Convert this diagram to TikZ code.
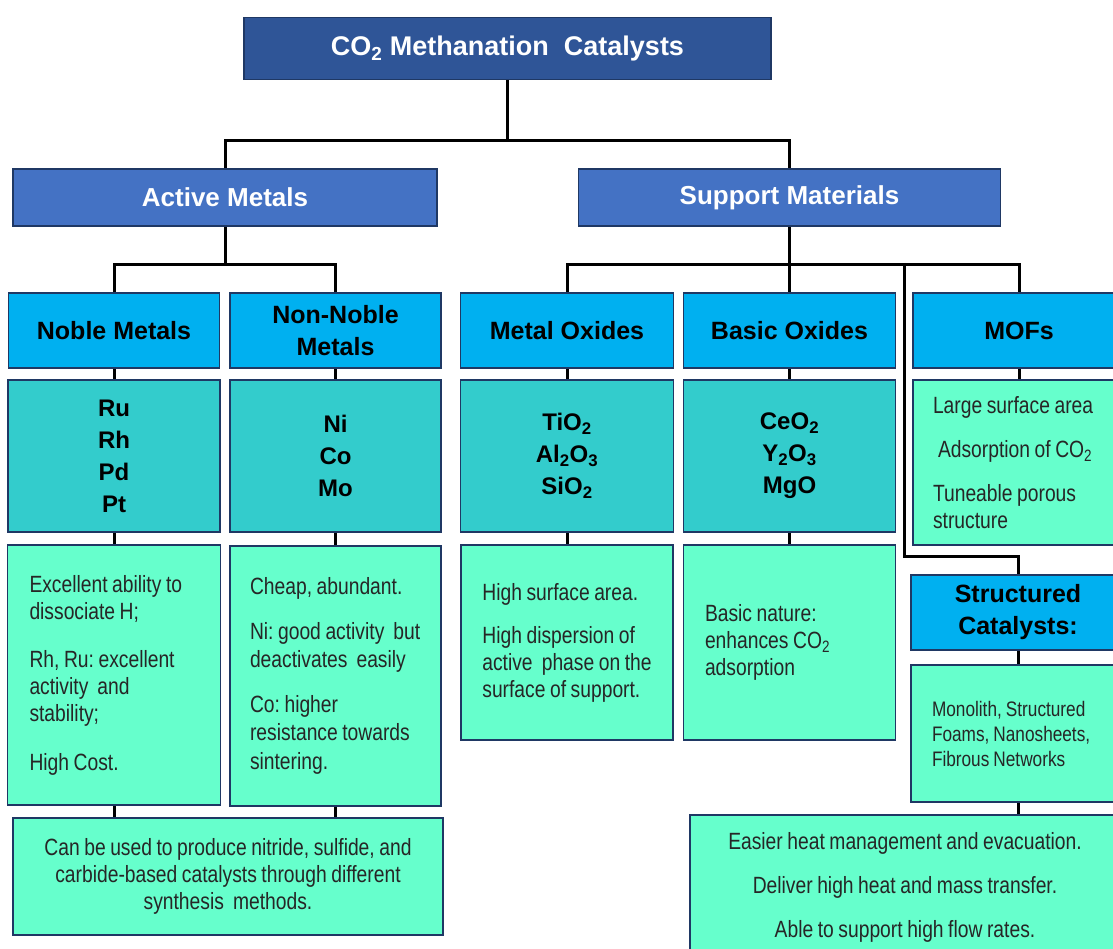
\documentclass[tikz,border=0pt]{standalone}
\usepackage{fontspec}
\setmainfont{Liberation Sans}
\newfontfamily\narrowfont[FakeStretch=0.82, WordSpace=0.85]{Liberation Sans}
\newcommand\notefont{\narrowfont\frenchspacing}
\definecolor{navy}{HTML}{1F3864}
\definecolor{topblue}{HTML}{2F5597}
\definecolor{midblue}{HTML}{4472C4}
\definecolor{skyblue}{HTML}{00B0F0}
\definecolor{tealbox}{HTML}{33CCCC}
\definecolor{mintbox}{HTML}{66FFCC}

\begin{document}
\begin{tikzpicture}[x=1pt,y=-1pt,
    box/.style={draw=navy, line width=1.8pt, inner sep=0pt, align=center},
    topbox/.style={box, fill=topblue, text=white, font=\fontsize{27}{32}\selectfont\bfseries},
    catbox/.style={box, fill=midblue, text=white, font=\fontsize{26}{32}\selectfont\bfseries},
    headbox/.style={box, fill=skyblue, minimum height=75pt, font=\fontsize{25}{32}\selectfont\bfseries},
    elembox/.style={box, fill=tealbox, minimum height=152pt, font=\fontsize{24}{32}\selectfont\bfseries},
    notebox/.style={box, fill=mintbox, text=black!85, font=\notefont\fontsize{23.5}{27}\selectfont},
    link/.style={line width=3pt}]
  \useasboundingbox (0,0) rectangle (1113,949);

  % top levels
  \node[topbox, minimum width=527pt, minimum height=62pt] (title) at (507.5,48.5)
    {CO\textsubscript{2} Methanation\ \ Catalysts};
  \node[catbox, minimum width=424pt, minimum height=57pt] (active) at (225,197.5) {Active Metals};
  \node[catbox, minimum width=422pt, minimum height=57pt] (support) at (789.5,197.5) {Support Materials};

  % headers
  \node[headbox, minimum width=211pt] (noble) at (114,330.5) {Noble Metals};
  \node[headbox, minimum width=211pt] (nonnoble) at (335.5,330.5) {Non-Noble\\Metals};
  \node[headbox, minimum width=213pt] (metox) at (567,330.5) {Metal Oxides};
  \node[headbox, minimum width=212pt] (basox) at (789.5,330.5) {Basic Oxides};
  \node[headbox, minimum width=212pt] (mofs) at (1019,330.5) {MOFs};

  % elements
  \node[elembox, minimum width=212pt] (nobleel) at (114,456) {Ru\\Rh\\Pd\\Pt};
  \node[elembox, minimum width=211pt] (nonnobleel) at (335.5,456) {Ni\\Co\\Mo};
  \node[elembox, minimum width=213pt] (metoxel) at (567,456)
    {TiO\textsubscript{2}\\Al\textsubscript{2}O\textsubscript{3}\\SiO\textsubscript{2}};
  \node[elembox, minimum width=212pt] (basoxel) at (789.5,456)
    {CeO\textsubscript{2}\\Y\textsubscript{2}O\textsubscript{3}\\MgO};

  % notes (first line boxed to fix the left margin)
  \node[notebox, minimum width=212pt, minimum height=165pt, align=left] (mofsnote) at (1019,462.5)
    {\makebox[172pt][l]{Large surface area}\\[17pt]\hspace{5pt}Adsorption of CO\textsubscript{2}\\[17pt]Tuneable porous\\structure};
  \node[notebox, minimum width=213pt, minimum height=260pt, align=left] (noblenote) at (114,675)
    {\makebox[169pt][l]{Excellent ability to}\\dissociate H;\\[21pt]Rh, Ru: excellent\\activity\ \ and\\stability;\\[22pt]High Cost.};
  \node[notebox, minimum width=211pt, minimum height=260pt, align=left,
    font=\notefont\fontsize{23.5}{28.5}\selectfont] (nonnoblenote) at (335.5,676)
    {\makebox[171pt][l]{Cheap, abundant.}\\[16pt]Ni: good activity\ \ but\\deactivates\ \ easily\\[16pt]Co: higher\\resistance towards\\sintering.};
  \node[notebox, minimum width=212pt, minimum height=195pt, align=left] (metoxnote) at (567,642.5)
    {\makebox[169pt][l]{High surface area.}\\[16pt]High dispersion of\\active\ \ phase on the\\surface of support.};
  \node[notebox, minimum width=212pt, minimum height=195pt, align=left] (basoxnote) at (789.5,642.5)
    {\makebox[169pt][l]{Basic nature:}\\enhances CO\textsubscript{2}\\adsorption};

  % structured catalysts
  \node[headbox, minimum width=214pt] (struct) at (1018,612.5) {Structured\\Catalysts:};
  \node[notebox, minimum width=214pt, minimum height=137pt, align=left,
    font=\notefont\fontsize{21}{25}\selectfont] (structnote) at (1018,733.5)
    {\makebox[172pt][l]{Monolith, Structured}\\Foams, Nanosheets,\\Fibrous Networks};

  % bottom boxes
  \node[notebox, minimum width=430pt, minimum height=117pt] (botleft) at (228,876.5)
    {Can be used to produce nitride, sulfide, and\\carbide-based catalysts through different\\synthesis\ \ methods.};
  \node[notebox, minimum width=430pt, minimum height=145pt] (botright) at (905,887.5)
    {Easier heat management and evacuation.\\[17pt]Deliver high heat and mass transfer.\\[17pt]Able to support high flow rates.};

  % connectors
  \draw[link] (title.south) -- ++(0,60) coordinate (tsplit);
  \draw[link] (active.north) |- (tsplit) -| (support.north);
  \draw[link] (active.south) -- ++(0,38) coordinate (asplit);
  \draw[link] (noble.north) |- (asplit) -| (nonnoble.north);
  \draw[link] (support.south) -- ++(0,38) coordinate (ssplit);
  \draw[link] (metox.north) |- (ssplit) -| (mofs.north);
  \draw[link] (ssplit) -- (basox.north);
  \coordinate (sbranch) at (904,263);
  \coordinate (sbend) at (904,556);
  \draw[link] (sbranch) -- (sbend) -| (struct.north);
  \foreach \a/\b in {noble/nobleel, nobleel/noblenote, nonnoble/nonnobleel, nonnobleel/nonnoblenote,
      metox/metoxel, metoxel/metoxnote, basox/basoxel, basoxel/basoxnote, mofs/mofsnote, struct/structnote}
    \draw[link] (\a.south) -- (\b.north);
  \draw[link] (noblenote.south) -- (noblenote.south |- botleft.north);
  \draw[link] (nonnoblenote.south) -- (nonnoblenote.south |- botleft.north);
  \draw[link] (structnote.south) -- (structnote.south |- botright.north);
\end{tikzpicture}
\end{document}
